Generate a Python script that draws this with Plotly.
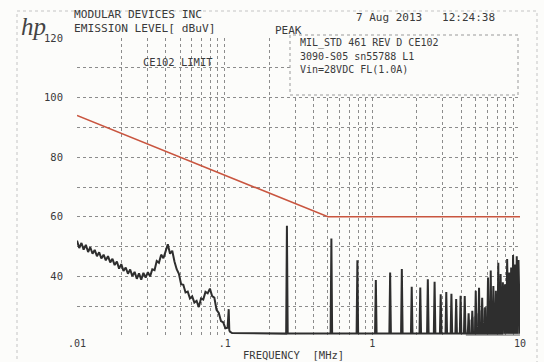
import plotly.graph_objects as go

# ---------------- data ----------------
# broadband emission (low-frequency part), MHz / dBuV
noise_f = [0.01000, 0.01035, 0.01072, 0.01109, 0.01148, 0.01189, 0.01230, 0.01274, 0.01318, 0.01365,
           0.01413, 0.01462, 0.01514, 0.01567, 0.01622, 0.01679, 0.01738, 0.01799, 0.01862, 0.01928,
           0.01995, 0.02065, 0.02138, 0.02213, 0.02291, 0.02371, 0.02455, 0.02541, 0.02630, 0.02723,
           0.02818, 0.02917, 0.03020, 0.03126, 0.03236, 0.03350, 0.03467, 0.03589, 0.03715, 0.03846,
           0.03981, 0.04121, 0.04266, 0.04416, 0.04571, 0.04732, 0.04898, 0.05070, 0.05248, 0.05433,
           0.05623, 0.05821, 0.06026, 0.06237, 0.06457, 0.06683, 0.06918, 0.07161, 0.07413, 0.07674,
           0.07943, 0.08222, 0.08511, 0.08810, 0.09120, 0.09441, 0.09772, 0.1012, 0.1047, 0.1065,
           0.1075, 0.1084, 0.1122]
noise_db = [52.0, 49.5, 51.2, 49.0, 50.6, 48.2, 49.8, 47.6, 48.9, 46.8,
            48.1, 46.0, 47.3, 45.4, 46.8, 44.7, 45.9, 43.8, 45.0, 42.6,
            44.1, 41.8, 43.0, 40.9, 42.3, 40.1, 41.5, 39.2, 41.0, 38.9,
            41.2, 39.6, 41.4, 40.0, 42.4, 42.1, 45.2, 44.6, 47.3, 46.1,
            48.4, 50.8, 47.6, 48.6, 45.0, 42.4, 40.9, 37.4, 37.2, 34.6,
            34.9, 32.6, 33.3, 31.2, 31.8, 29.7, 32.6, 32.2, 34.8, 34.3,
            35.9, 33.4, 32.9, 28.8, 27.7, 25.0, 24.6, 22.6, 22.8, 29.0,
            22.0, 21.5, 21.0]

# narrowband harmonics (MHz / dBuV)
harm_f = [0.264, 0.528, 0.792, 1.056, 1.320, 1.584, 1.848, 2.112, 2.376, 2.640,
          2.904, 3.168, 3.432, 3.696, 3.960, 4.224, 4.488, 4.752, 5.016, 5.280,
          5.544, 5.808, 6.072, 6.336, 6.600, 6.864, 7.128, 7.392, 7.656, 7.920,
          8.184, 8.448, 8.712, 8.976, 9.240, 9.504, 9.768]
harm_db = [57.0, 52.7, 45.4, 38.8, 41.3, 42.5, 36.5, 36.3, 39.0, 38.2,
           34.0, 34.8, 34.2, 32.4, 33.5, 33.4, 27.6, 28.5, 35.2, 36.2,
           32.8, 29.6, 39.6, 42.0, 36.8, 35.2, 44.6, 40.8, 38.0, 37.4,
           45.8, 41.3, 43.0, 47.2, 44.0, 46.8, 45.5]
noise_floor_db = 20.8

# dense clutter envelope at the top end of the band
clutter_f = [4.30, 4.50, 5.00, 5.50, 6.00, 7.00, 8.00, 9.00, 10.0]
clutter_db = [21.0, 25.0, 27.0, 29.0, 30.0, 31.5, 33.0, 35.0, 36.0]

# CE102 limit (28 V)
limit_f = [0.01, 0.5, 10.0]
limit_db = [94.0, 60.0, 60.0]

# axis ticks
x_tickvals = [0.01, 0.02, 0.03, 0.04, 0.05, 0.06, 0.07, 0.08, 0.09,
              0.1, 0.2, 0.3, 0.4, 0.5, 0.6, 0.7, 0.8, 0.9,
              1, 2, 3, 4, 5, 6, 7, 8, 9, 10]
x_ticktext = ['.01', '', '', '', '', '', '', '', '',
              '.1', '', '', '', '', '', '', '', '',
              '1', '', '', '', '', '', '', '', '', '10']
y_tickvals = [20, 30, 40, 50, 60, 70, 80, 90, 100, 110, 120]
y_ticktext = ['', '', '40', '', '60', '', '80', '', '100', '', '120']

# ---------------- build trace ----------------
xs = list(noise_f)
ys = list(noise_db)
for f, a in zip(harm_f, harm_db):
    xs += [f / 1.012, f, f * 1.012]
    ys += [noise_floor_db, a, noise_floor_db]
xs.append(10.0)
ys.append(noise_floor_db)

MONO = "DejaVu Sans Mono"
INK = "#3a3a3a"

fig = go.Figure()
fig.add_trace(go.Scatter(x=clutter_f, y=clutter_db, mode="lines", fill="tozeroy",
                         fillcolor="rgba(70,70,70,0.45)", line=dict(width=0),
                         hoverinfo="skip", showlegend=False))
fig.add_trace(go.Scatter(x=xs, y=ys, mode="lines",
                         line=dict(color="#2e2e2e", width=2.0), showlegend=False))
fig.add_trace(go.Scatter(x=limit_f, y=limit_db, mode="lines",
                         line=dict(color="#c9553f", width=1.6), showlegend=False))

L, R, T, B = 77, 24, 38, 26
W, H = 544, 362
pw, ph = W - L - R, H - T - B


def px(x):
    return (x - L) / pw


def py(y):
    return (H - B - y) / ph


fig.update_layout(
    width=W, height=H,
    margin=dict(l=L, r=R, t=T, b=B),
    paper_bgcolor="#fcfcfa", plot_bgcolor="#fcfcfa",
    font=dict(family=MONO, color=INK, size=10),
    xaxis=dict(type="log", range=[-2, 1], tickvals=x_tickvals, ticktext=x_ticktext,
               showgrid=True, gridcolor="#8c8c8c", griddash="dot", gridwidth=1,
               zeroline=False, showline=False, ticks="", ticklabelstandoff=0,
               tickfont=dict(family=MONO, size=10, color=INK)),
    yaxis=dict(range=[20, 120], tickvals=y_tickvals, ticktext=y_ticktext,
               showgrid=True, gridcolor="#8c8c8c", griddash="dot", gridwidth=1,
               zeroline=False, showline=False, ticks="", ticklabelstandoff=13,
               tickfont=dict(family=MONO, size=10.5, color=INK)),
)

shapes = [
    # info box (white, covers grid)
    dict(type="rect", xref="paper", yref="paper", x0=px(290), x1=px(518), y0=py(95), y1=py(35),
         fillcolor="#fcfcfa", line=dict(color="#9a9a9a", width=1, dash="dot"), layer="above"),
    # scanned page frame
    dict(type="rect", xref="paper", yref="paper", x0=px(17), x1=px(537), y0=py(372), y1=py(11),
         fillcolor="rgba(0,0,0,0)", line=dict(color="#c4c4c4", width=1, dash="dot"), layer="below"),
]
fig.update_layout(shapes=shapes)


def txt(s, x, y, size=11, anchor="left", family=MONO, color=INK):
    fig.add_annotation(text=s, xref="paper", yref="paper", x=px(x), y=py(y),
                       xanchor=anchor, yanchor="middle", showarrow=False,
                       font=dict(family=family, size=size, color=color))


txt("<i>hp</i>", 33, 26, size=25, anchor="center", family="Liberation Serif", color="#444")
txt("MODULAR DEVICES INC", 72, 15, size=11.2)
txt("EMISSION LEVEL[ dBuV]", 72, 29, size=11.2)
txt("PEAK", 273, 30, size=11)
txt("7 Aug 2013   12:24:38", 354, 17.5, size=11)
txt("CE102 LIMIT", 141, 62, size=10.5)
txt("MIL_STD 461 REV D CE102", 298, 43, size=10)
txt("3090-S05 sn55788 L1", 298, 57, size=10)
txt("Vin=28VDC FL(1.0A)", 298, 69, size=10)
txt("FREQUENCY  [MHz]", 241, 355, size=10.5)

fig.write_html("out.html", config={"displayModeBar": False},
               post_script="document.body.style.margin='0';document.body.style.padding='0';")
